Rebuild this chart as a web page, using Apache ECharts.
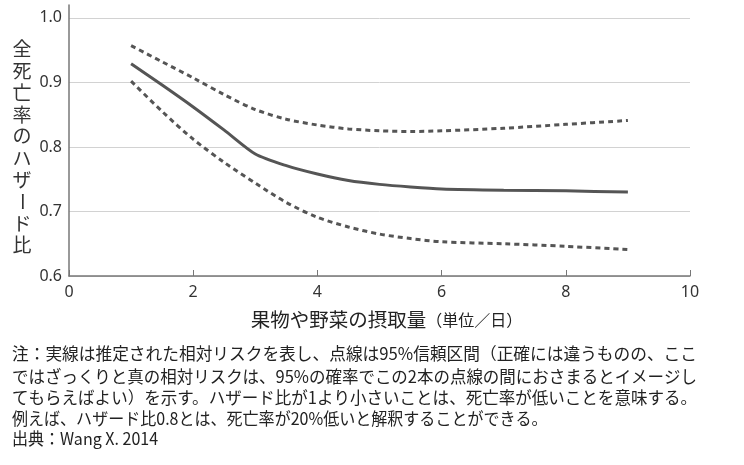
<!DOCTYPE html>
<html>
<head>
<meta charset="utf-8">
<script src="https://cdn.jsdelivr.net/npm/echarts@6/dist/echarts.min.js"></script>
<style>html,body{margin:0;padding:0;background:#fff;}#c{width:744px;height:465px;}</style>
</head>
<body>
<div id="c"></div>
<script>
// ---- data ----
var intake = [1, 1.5, 2, 2.5, 3, 3.5, 4, 4.5, 5, 5.5, 6, 7, 8, 9];
var estimate = [0.929, 0.896, 0.862, 0.826, 0.789, 0.771, 0.758, 0.748, 0.742, 0.738, 0.735, 0.733, 0.732, 0.730];
var upperCI = [0.957, 0.932, 0.907, 0.881, 0.858, 0.843, 0.834, 0.828, 0.825, 0.824, 0.825, 0.829, 0.835, 0.841];
var lowerCI = [0.902, 0.855, 0.812, 0.776, 0.744, 0.714, 0.691, 0.676, 0.665, 0.658, 0.653, 0.650, 0.646, 0.641];
var yAxisTitle = '全死亡率のハザード比';
var xAxisMain = '果物や野菜の摂取量';
var xAxisUnit = '（単位／日）';
var noteLines = [
  '注：実線は推定された相対リスクを表し、点線は95%信頼区間（正確には違うものの、ここ',
  'ではざっくりと真の相対リスクは、95%の確率でこの2本の点線の間におさまるとイメージし',
  'てもらえばよい）を示す。ハザード比が1より小さいことは、死亡率が低いことを意味する。',
  '例えば、ハザード比0.8とは、死亡率が20%低いと解釈することができる。',
  '出典：Wang X. 2014'
];

function pairs(ys) { return intake.map(function (x, i) { return [x, ys[i]]; }); }

var cjk = '"Noto Sans CJK JP", "Noto Sans", sans-serif';
var noteFont = '16.8px ' + cjk;
var measureCtx = document.createElement('canvas').getContext('2d');
measureCtx.font = noteFont;

var graphics = [];
// vertical y-axis title
for (var i = 0; i < yAxisTitle.length; i++) {
  var ch = yAxisTitle[i];
  graphics.push({
    type: 'text',
    x: 22, y: 49 + i * 21.8,
    rotation: ch === 'ー' ? -Math.PI / 2 : 0,
    style: { text: ch, font: '19px ' + cjk, fill: '#333', align: 'center', verticalAlign: 'middle' }
  });
}
var noteY = [354, 377, 398, 419, 439];
var fullWidth = 685;
noteLines.forEach(function (t, k) {
  var w = measureCtx.measureText(t).width;
  var sx = k < 3 ? fullWidth / w : 0.955;
  graphics.push({
    type: 'text', x: 12, y: noteY[k], scaleX: sx,
    style: { text: t, font: noteFont, fill: '#222', align: 'left', verticalAlign: 'middle' }
  });
});

var chart = echarts.init(document.getElementById('c'));
chart.setOption({
  animation: false,
  backgroundColor: '#fff',
  grid: { left: 69, right: 54, top: 5, bottom: 189 },
  xAxis: {
    type: 'value', min: 0, max: 10, interval: 2,
    axisLine: { show: true, lineStyle: { color: '#777', width: 1.5 } },
    axisTick: { show: true, inside: true, length: 6, lineStyle: { color: '#777' } },
    splitLine: { show: false },
    axisLabel: { color: '#333', fontSize: 16, fontFamily: '"Noto Sans", sans-serif', margin: 8 },
    name: '{a|' + xAxisMain + '}{b|' + xAxisUnit + '}',
    nameLocation: 'middle', nameGap: 34,
    nameTextStyle: {
      padding: [0, 0, 0, 14],
      rich: {
        a: { fontSize: 19.5, color: '#222', fontFamily: cjk },
        b: { fontSize: 16, color: '#222', fontFamily: cjk }
      }
    }
  },
  yAxis: {
    type: 'value', min: 0.6, max: 1.02, interval: 0.1,
    axisLine: { show: true, lineStyle: { color: '#777', width: 1.5 } },
    axisTick: { show: false },
    splitLine: { show: true, lineStyle: { color: ['#d2d2d2', '#d2d2d2', '#d2d2d2', '#d2d2d2', '#d2d2d2', 'rgba(0,0,0,0)'], width: 1 } },
    axisLabel: {
      color: '#333', fontSize: 16, fontFamily: '"Noto Sans", sans-serif', margin: 7,
      showMaxLabel: false,
      formatter: function (v) { return v > 1.001 ? '' : v.toFixed(1); }
    }
  },
  series: [
    { type: 'line', data: pairs(upperCI), showSymbol: false, smooth: 0.3,
      lineStyle: { color: '#555', width: 3, type: [5, 4] } },
    { type: 'line', data: pairs(estimate), showSymbol: false, smooth: 0.25,
      lineStyle: { color: '#555', width: 3 } },
    { type: 'line', data: pairs(lowerCI), showSymbol: false, smooth: 0.3,
      lineStyle: { color: '#555', width: 3, type: [5, 4] } }
  ],
  graphic: graphics
});
</script>
</body>
</html>
